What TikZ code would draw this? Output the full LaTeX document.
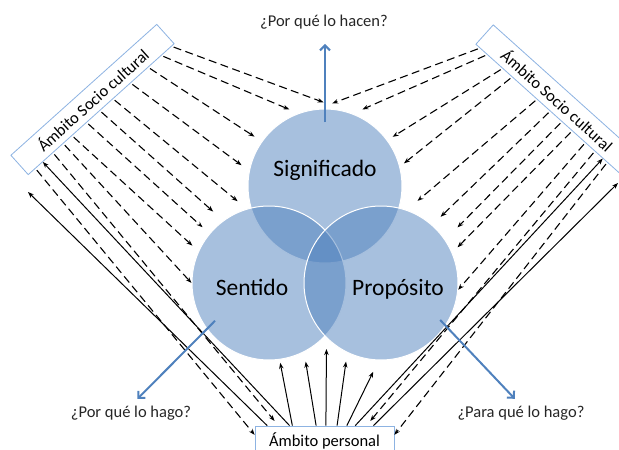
\documentclass[tikz,border=0pt]{standalone}
\usepackage{fontspec}
\setmainfont{Carlito}
\usetikzlibrary{arrows,arrows.meta,positioning,calc,shapes}

\definecolor{circblue}{RGB}{79,129,189}
\definecolor{boxline}{RGB}{141,179,226}

\tikzset{
  circ/.style={circle,minimum size=154pt,inner sep=0pt,fill=circblue,fill opacity=0.5,draw=white,line width=1pt},
  bigtext/.style={font=\fontsize{23.5}{28}\selectfont,anchor=base,inner sep=0pt},
  ask/.style={font=\fontsize{16.5}{20}\selectfont,anchor=base,inner sep=0pt,text=black!85},
  ambito/.style={draw=boxline,line width=0.8pt,fill=white,font=\fontsize{16.5}{20}\selectfont,inner sep=1pt},
  dasharrow/.style={dash pattern=on 8pt off 4.5pt,line width=1.1pt,-{Stealth[length=6pt,width=4.5pt]},shorten <=2pt},
  solidarrow/.style={line width=1pt,-{Stealth[length=6pt,width=4.5pt]}},
  bluearrow/.style={draw=circblue,line width=2pt,-{Straight Barb[length=5pt,width=10pt]}}
}

\begin{document}
\begin{tikzpicture}[x=1pt,y=-1pt]
\useasboundingbox (0,0) rectangle (619,450);
\clip (0,0) rectangle (619,450);

% Three circles
\node[circ] (sig) at (325,186) {};
\node[circ] (sen) at (269,283) {};
\node[circ] (pro) at (381,283) {};

% Texts in the circles
\node[bigtext] (sigtxt) at (325,176.5) {Significado};
\node[bigtext] (sentxt) at (252,295) {Sentido};
\node[bigtext] (protxt) at (398,295) {Propósito};

% Ambito boxes
\node[ambito,minimum width=196pt,minimum height=26pt,rotate=41.9] (lsoc) at (92.5,99.5) {Ámbito Socio cultural};
\node[ambito,minimum width=196pt,minimum height=26pt,rotate=-41.9] (rsoc) at (557.5,100) {Ámbito Socio cultural};
\node[ambito,minimum width=139pt,minimum height=30pt] (per) at (324.5,441) {Ámbito personal};

% Questions
\node[ask] (hacen) at (324,26) {¿Por qué lo hacen?};
\node[ask] (hago) at (131,417) {¿Por qué lo hago?};
\node[ask] (para) at (521,417) {¿Para qué lo hago?};

% Free ends of two solid arrows
\coordinate (lfree) at (28,192);
\coordinate (rfree) at (618,183);

% Left box to circles
\foreach \pos/\nd/\ang/\fac in {0.98/sig/91/1.08, 0.91/sig/115/1.09, 0.82/sig/145/1.11, 0.70/sig/166/1.11,
    0.58/sen/111/1.13, 0.49/sen/128/1.17, 0.40/sen/140/1.12, 0.30/sen/154/1.10, 0.24/sen/180/1.0}
  \draw[dasharrow] ($(lsoc.south west)!\pos!(lsoc.south east)$) -- ($(\nd.center)!\fac!(\nd.\ang)$);

% Right box to circles
\foreach \pos/\nd/\ang/\fac in {0.03/sig/85/1.07, 0.08/sig/64/1.10, 0.185/sig/36/1.08, 0.25/sig/16/1.06,
    0.42/pro/66/1.16, 0.51/pro/48/1.15, 0.59/pro/36/1.22, 0.66/pro/25/1.09, 0.75/pro/-5/1.0}
  \draw[dasharrow] ($(rsoc.south west)!\pos!(rsoc.south east)$) -- ($(\nd.center)!\fac!(\nd.\ang)$);

% Personal box to circles
\foreach \pos/\nd/\ang/\fac in {0.27/sen/-82/1.04, 0.44/sen/-65/1.12, 0.51/sen/-49/1.13, 0.59/pro/246/1.11, 0.66/pro/265/1.15}
  \draw[solidarrow] ($(per.north west)!\pos!(per.north east)$) -- ($(\nd.center)!\fac!(\nd.\ang)$);

% Between left box and personal box
\draw[dasharrow] ($(lsoc.south west)!0.05!(lsoc.south east)$) -- ($(per.north west)!0.3!(per.south west)$);
\draw[dasharrow,shorten >=6pt] ($(lsoc.south west)!0.17!(lsoc.south east)$) -- ($(per.north west)!0.17!(per.north east)$);
\draw[solidarrow] ($(per.north west)!0.25!(per.north east)$) -- ($(lsoc.south west)!0.10!(lsoc.south east)$);
\draw[solidarrow] ($(per.north west)!0.09!(per.north east)$) -- (lfree);

% Between right box and personal box
\draw[dasharrow] ($(rsoc.south west)!0.9!(rsoc.south east)$) -- ($(per.north east)!0.3!(per.south east)$);
\draw[dasharrow,shorten >=6pt] ($(rsoc.south west)!0.815!(rsoc.south east)$) -- ($(per.north west)!0.80!(per.north east)$);
\draw[solidarrow] ($(per.north west)!0.72!(per.north east)$) -- ($(rsoc.south west)!0.87!(rsoc.south east)$);
\draw[solidarrow] ($(per.north west)!0.85!(per.north east)$) -- (rfree);

% Blue arrows to the questions
\draw[bluearrow,shorten >=15pt] ($(sig.center)!0.82!(sig.north)$) -- (sig.center |- hacen.south);
\draw[bluearrow,shorten >=9pt] ($(sen.center)!0.85!(sen.-145)$) -- (hago.north);
\draw[bluearrow,shorten >=9pt] ($(pro.center)!0.9!(pro.-32)$) -- (para.north);
\end{tikzpicture}
\end{document}
